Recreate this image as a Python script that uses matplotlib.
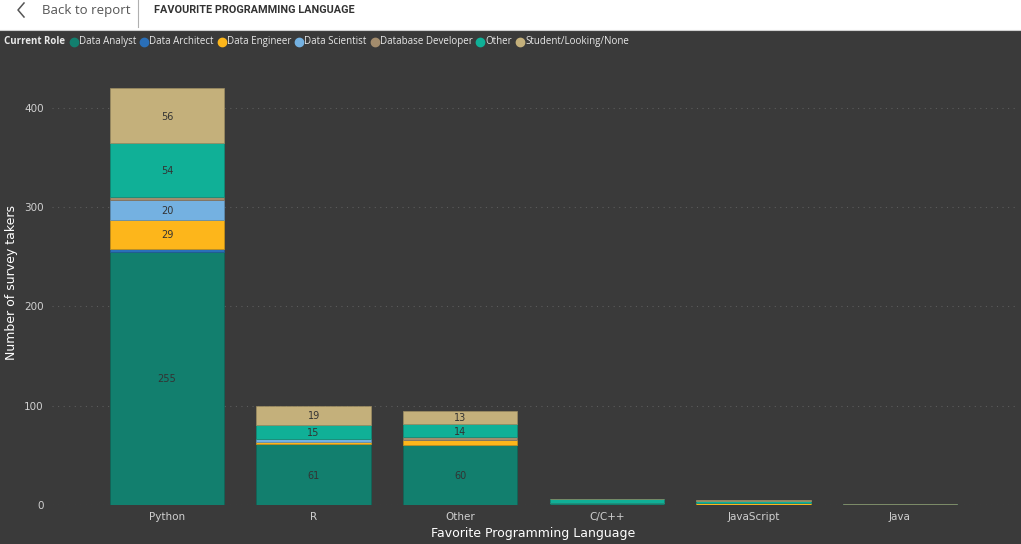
import matplotlib
matplotlib.use("Agg")
import matplotlib.pyplot as plt
from matplotlib.patches import Rectangle
from matplotlib.lines import Line2D
from matplotlib.colors import to_rgb
import numpy as np

# data
languages = ["Python", "R", "Other", "C/C++", "JavaScript", "Java"]
roles = ["Data Analyst", "Data Architect", "Data Engineer", "Data Scientist",
         "Database Developer", "Other", "Student/Looking/None"]
role_colors = ["#127f6e", "#2a6fb8", "#fdb61b", "#74b1e1",
               "#a38c6d", "#10b097", "#c4b07b"]

data_analyst = [255, 61, 60, 2, 0, 1]
data_architect = [3, 0, 0, 0, 0, 0]
data_engineer = [29, 2, 5, 0, 2, 0]
data_scientist = [20, 3, 0, 0, 0, 0]
database_developer = [3, 0, 3, 0, 0, 0]
other_role = [54, 15, 14, 4, 2, 0]
student = [56, 19, 13, 0, 1, 0]

series = [data_analyst, data_architect, data_engineer, data_scientist,
          database_developer, other_role, student]

yticks = [0, 100, 200, 300, 400]

BG = "#3a3a3a"

fig = plt.figure(figsize=(10.21, 5.44), dpi=100)
fig.patch.set_facecolor(BG)

W, H = 1021, 544


def fx(px):
    return px / W


def fy(py):
    return 1 - py / H


# header strip
fig.patches.append(Rectangle((0, fy(30)), 1, 30 / H, transform=fig.transFigure,
                             facecolor="white", edgecolor="none", zorder=0))
fig.lines.append(Line2D([fx(0), fx(1021)], [fy(30), fy(30)], transform=fig.transFigure,
                        color="#d0d0d0", lw=0.8))
fig.lines.append(Line2D([fx(138), fx(138)], [fy(0), fy(27)], transform=fig.transFigure,
                        color="#b0b0b0", lw=0.8))
fig.lines.append(Line2D([fx(24), fx(18), fx(24)], [fy(3), fy(10), fy(17)],
                        transform=fig.transFigure, color="#555555", lw=1.1))
fig.text(fx(42), fy(10.5), "Back to report", fontsize=9.5, color="#555555",
         family="Open Sans", va="center", ha="left")
fig.text(fx(154), fy(10), "FAVOURITE PROGRAMMING LANGUAGE", fontsize=7.8,
         color="#333333", family="Roboto", weight="bold", va="center", ha="left")

# legend row, laid out left to right
renderer = fig.canvas.get_renderer()
ly = fy(41.5)
t = fig.text(fx(4), ly, "Current Role", fontsize=7, color="#e8e8e8", weight="bold",
             va="center", ha="left", family="Open Sans")
x_px = 4 + t.get_window_extent(renderer).width + 9
for name, col in zip(roles, role_colors):
    fig.lines.append(Line2D([fx(x_px)], [fy(42)], transform=fig.transFigure, marker="o",
                            markersize=6, color=col, linestyle="none"))
    t = fig.text(fx(x_px + 5), ly, name, fontsize=7, color="#e8e8e8",
                 va="center", ha="left", family="Open Sans")
    x_px = x_px + 5 + t.get_window_extent(renderer).width + 8

# plot area
ax = fig.add_axes([fx(52), fy(505), fx(1015) - fx(52), (505 - 70) / H])
ax.set_facecolor(BG)
x = np.arange(len(languages))
bottom = np.zeros(len(languages))
for vals, col in zip(series, role_colors):
    vals = np.array(vals, dtype=float)
    edge = tuple(c * 0.8 for c in to_rgb(col))
    ax.bar(x, vals, width=0.78, bottom=bottom, color=col,
           edgecolor=edge, linewidth=0.5, zorder=3)
    for xi, v, b in zip(x, vals, bottom):
        if v >= 10:
            ax.text(xi, b + v / 2 - 1, str(int(v)), ha="center", va="center",
                    fontsize=7, color="#333333", zorder=4)
    bottom += vals

ax.set_xlim(-0.785, len(languages) - 1 + 0.785)
ax.set_ylim(0, 438)
ax.set_yticks(yticks)
ax.yaxis.grid(True, color="#5c5c5c", linestyle=(0, (1, 4)), linewidth=0.8)
ax.set_axisbelow(True)
ax.set_xticks(x)
ax.set_xticklabels(languages)
for s in ax.spines.values():
    s.set_visible(False)
ax.tick_params(axis="both", length=0, colors="#d0d0d0", labelsize=7.5)
ax.tick_params(axis="x", pad=5)
ax.tick_params(axis="y", pad=6)

ax.set_xlabel("Favorite Programming Language", color="white", fontsize=9,
              labelpad=4)
fig.text(fx(12), fy(282), "Number of survey takers", color="white", fontsize=9,
         rotation=90, ha="center", va="center")

fig.savefig("out.png", dpi=100, facecolor=fig.get_facecolor())
